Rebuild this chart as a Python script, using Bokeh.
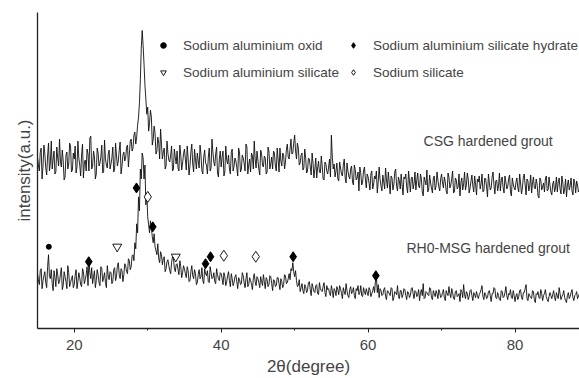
import numpy as np
from bokeh.plotting import figure
from bokeh.models import (Range1d, FixedTicker, Legend, LegendItem, Label)
from bokeh.embed import file_html
from bokeh.resources import INLINE

# ---- data: XRD intensity (a.u.) ----
# samples "a" at 15.0 + 0.25*k, samples "b" at 15.125 + 0.25*k
start_a = 15.0
start_b = 15.125
step_2theta = 0.25

csg_intensity_a = [
    172, 158, 181, 163, 175, 154, 186, 166, 160, 178, 157, 171, 190, 162, 168, 152, 177, 165, 183, 159,
    170, 156, 188, 164, 174, 151, 169, 180, 158, 193, 163, 172, 155, 176, 166, 184, 157, 170, 161, 179,
    165, 182, 160, 174, 168, 187, 163, 177, 171, 184, 175, 190, 181, 197, 192, 212, 250, 299, 265, 230,
    222, 206, 212, 190, 196, 178, 186, 200, 170, 181, 163, 176, 167, 183, 160, 172, 178, 158, 174, 166,
    180, 159, 171, 163, 185, 157, 170, 176, 161, 174, 155, 179, 164, 172, 158, 190, 167, 175, 156, 170,
    162, 178, 157, 169, 174, 155, 180, 163, 168, 153, 176, 160, 171, 158, 182, 164, 157, 173, 188, 161,
    169, 154, 175, 162, 171, 157, 178, 165, 160, 176, 158, 170, 181, 163, 174, 167, 185, 170, 190, 176,
    194, 170, 181, 166, 176, 161, 171, 158, 170, 154, 166, 160, 151, 168, 156, 163, 149, 165, 155, 170,
    194, 160, 152, 166, 148, 161, 153, 170, 146, 158, 150, 163, 144, 159, 151, 138, 156, 147, 162, 141,
    152, 139, 158, 145, 150, 136, 162, 143, 154, 140, 149, 157, 135, 151, 144, 160, 138, 148, 155, 134,
    150, 142, 158, 137, 152, 145, 139, 156, 141, 150, 133, 148, 159, 140, 146, 136, 153, 143, 149, 138,
    155, 141, 147, 135, 152, 144, 158, 137, 149, 142, 133, 151, 145, 139, 156, 136, 148, 143, 153, 134,
    147, 140, 155, 138, 150, 132, 146, 141, 157, 135, 149, 143, 138, 152, 136, 147, 142, 154, 133, 145,
    139, 151, 137, 146, 141, 155, 134, 148, 143, 136, 152, 140, 145, 131, 149, 142, 137, 153, 139, 144,
    134, 148, 141, 137, 151, 135, 146, 140, 132, 149, 143, 138, 150, 136, 144, 139,
]
csg_intensity_b = [
    164, 177, 150, 184, 161, 173, 158, 188, 170, 155, 182, 163, 167, 179, 149, 174, 160, 186, 157, 176,
    183, 162, 171, 153, 185, 166, 158, 175, 191, 160, 178, 150, 181, 163, 172, 156, 189, 164, 175, 160,
    171, 157, 186, 163, 179, 155, 174, 168, 182, 162, 188, 178, 194, 185, 204, 226, 281, 284, 244, 215,
    198, 219, 184, 203, 175, 192, 170, 185, 177, 160, 188, 169, 174, 158, 180, 165, 161, 184, 159, 175,
    170, 183, 154, 177, 165, 180, 160, 168, 184, 158, 172, 166, 155, 181, 161, 177, 163, 182, 152, 178,
    172, 153, 183, 165, 160, 177, 158, 171, 162, 181, 157, 174, 166, 185, 155, 170, 176, 160, 170, 178,
    160, 179, 164, 173, 155, 182, 160, 172, 178, 163, 181, 157, 168, 176, 160, 179, 172, 180, 175, 186,
    178, 186, 164, 174, 159, 180, 156, 171, 162, 176, 151, 171, 161, 157, 173, 150, 167, 158, 162, 152,
    172, 165, 158, 150, 167, 155, 164, 151, 166, 153, 160, 147, 164, 149, 157, 162, 144, 158, 150, 155,
    146, 155, 140, 153, 158, 147, 150, 138, 147, 161, 141, 146, 153, 139, 157, 143, 152, 140, 144, 152,
    155, 136, 148, 151, 140, 157, 149, 143, 155, 137, 152, 144, 137, 154, 141, 151, 139, 157, 142, 150,
    146, 152, 138, 156, 141, 150, 136, 151, 140, 155, 146, 139, 157, 144, 150, 141, 154, 137, 145, 150,
    153, 145, 137, 151, 142, 155, 139, 152, 144, 148, 138, 156, 149, 141, 153, 140, 150, 137, 151, 141,
    147, 141, 155, 135, 152, 144, 150, 138, 154, 146, 141, 150, 133, 151, 139, 146, 150, 138, 152, 137,
    145, 137, 152, 147, 140, 153, 135, 150, 144, 139, 151, 134, 146, 148, 137, 150,
]

rh0_intensity_a = [
    55, 44, 60, 48, 57, 41, 74, 50, 45, 58, 42, 54, 47, 61, 43, 52, 40, 56, 46, 53,
    44, 59, 47, 51, 42, 57, 49, 62, 68, 50, 45, 58, 48, 54, 43, 60, 51, 46, 63, 49,
    56, 47, 61, 52, 66, 50, 58, 54, 63, 55, 68, 62, 74, 86, 105, 132, 160, 176, 150, 124,
    112, 96, 101, 86, 82, 74, 70, 77, 64, 72, 60, 69, 58, 66, 71, 57, 65, 54, 62, 56,
    60, 51, 58, 48, 63, 50, 55, 46, 59, 52, 48, 60, 53, 47, 62, 50, 56, 45, 54, 48,
    55, 44, 52, 47, 57, 42, 50, 46, 54, 40, 49, 45, 53, 41, 56, 44, 48, 39, 55, 43,
    50, 41, 47, 54, 40, 49, 44, 52, 38, 48, 43, 51, 39, 47, 44, 53, 46, 55, 60, 66,
    52, 48, 43, 37, 45, 35, 42, 38, 47, 33, 41, 36, 44, 34, 40, 37, 46, 32, 39, 35,
    43, 31, 38, 42, 34, 40, 30, 37, 45, 33, 39, 35, 41, 30, 38, 34, 43, 32, 37, 40,
    33, 39, 35, 42, 48, 36, 31, 38, 34, 41, 29, 37, 33, 40, 31, 36, 43, 30, 38, 34,
    39, 29, 36, 33, 41, 30, 37, 34, 28, 39, 45, 31, 36, 33, 40, 29, 35, 38, 30, 36,
    32, 39, 28, 35, 42, 31, 36, 29, 38, 33, 27, 37, 44, 30, 35, 32, 39, 28, 34, 37,
    30, 36, 43, 29, 34, 31, 38, 27, 35, 40, 30, 33, 28, 37, 32, 42, 29, 34, 31, 38,
    27, 35, 32, 39, 29, 36, 44, 28, 33, 30, 37, 26, 34, 31, 39, 28, 35, 32, 27, 36,
    30, 38, 28, 33, 41, 29, 34, 31, 26, 36, 32, 39, 28, 34, 30, 35,
]
rh0_intensity_b = [
    49, 58, 40, 53, 46, 62, 52, 59, 38, 51, 60, 45, 55, 39, 57, 47, 63, 42, 50, 41,
    53, 40, 56, 44, 60, 45, 54, 43, 56, 61, 52, 41, 59, 46, 62, 47, 56, 41, 53, 57,
    45, 59, 48, 63, 54, 60, 47, 65, 57, 70, 59, 73, 68, 80, 96, 118, 150, 171, 164, 136,
    104, 108, 92, 95, 78, 85, 66, 74, 70, 57, 67, 63, 55, 72, 61, 64, 59, 68, 51, 63,
    55, 62, 47, 57, 53, 59, 44, 54, 50, 61, 45, 55, 58, 46, 56, 51, 47, 60, 50, 56,
    50, 56, 43, 53, 48, 55, 43, 52, 47, 51, 44, 56, 46, 50, 42, 51, 45, 50, 47, 52,
    46, 52, 43, 47, 51, 42, 53, 45, 49, 42, 51, 45, 50, 41, 54, 45, 50, 49, 58, 57,
    58, 42, 49, 41, 38, 44, 36, 46, 39, 45, 37, 43, 35, 46, 38, 42, 36, 43, 40, 33,
    38, 40, 33, 39, 43, 35, 41, 34, 38, 31, 42, 37, 33, 40, 43, 36, 33, 41, 34, 36,
    41, 32, 38, 36, 52, 44, 40, 33, 39, 32, 38, 35, 41, 28, 37, 34, 32, 38, 31, 40,
    33, 37, 31, 40, 35, 38, 32, 39, 36, 33, 30, 37, 34, 41, 31, 38, 32, 35, 39, 31,
    36, 31, 38, 33, 35, 40, 30, 37, 32, 35, 39, 31, 34, 37, 29, 38, 33, 36, 31, 33,
    34, 39, 32, 36, 30, 37, 33, 35, 41, 31, 36, 29, 38, 31, 36, 33, 35, 39, 30, 33,
    33, 29, 38, 31, 36, 40, 30, 35, 31, 38, 29, 35, 37, 30, 35, 33, 39, 29, 32, 33,
    34, 31, 36, 30, 35, 32, 38, 28, 33, 30, 36, 31, 33, 37, 32, 29,
]

# phase markers (2theta, intensity) on the RH0-MSG pattern
oxid_2theta = [16.54]
oxid_y = [82]
hydrate_2theta = [21.98, 28.47, 30.69, 37.87, 38.55, 49.80, 61.05]
hydrate_y = [67, 141, 102, 65, 72, 72, 53]
al_silicate_2theta = [25.85, 33.82]
al_silicate_y = [82, 72]
na_silicate_2theta = [30.01, 40.36, 44.71]
na_silicate_y = [132, 73, 72]

x_ticks = [20, 40, 60, 80]
x_minor_ticks = [30, 50, 70]

FONT = "Liberation Sans"


def merged(values_a, values_b):
    xa = start_a + step_2theta * np.arange(len(values_a))
    xb = start_b + step_2theta * np.arange(len(values_b))
    xs = np.concatenate([xa, xb])
    ys = np.concatenate([np.asarray(values_a, float), np.asarray(values_b, float)])
    order = np.argsort(xs, kind="stable")
    return xs[order], ys[order]


csg_x, csg_y = merged(csg_intensity_a, csg_intensity_b)
rh0_x, rh0_y = merged(rh0_intensity_a, rh0_intensity_b)

p = figure(width=579, height=378, output_backend="svg", toolbar_location=None,
           x_range=Range1d(15, 88.77), y_range=Range1d(0, 317),
           min_border_left=37, min_border_right=0, min_border_top=12, min_border_bottom=49)
p.outline_line_color = None
p.xgrid.visible = False
p.ygrid.visible = False
p.background_fill_color = "white"
p.border_fill_color = "white"

p.line(csg_x, csg_y, line_color="#0d0d0d", line_width=0.9)
p.line(rh0_x, rh0_y, line_color="#0d0d0d", line_width=0.9)

r_oxid = p.scatter(oxid_2theta, oxid_y, marker="circle", size=5, fill_color="black", line_color="black")
r_hyd = p.scatter(hydrate_2theta, hydrate_y, marker="diamond", size=10, fill_color="black", line_color="black")
r_als = p.scatter(al_silicate_2theta, al_silicate_y, marker="inverted_triangle", size=9,
                  fill_color="white", line_color="black", line_width=0.9)
r_nas = p.scatter(na_silicate_2theta, na_silicate_y, marker="diamond", size=11,
                  fill_color="white", line_color="black", line_width=0.9)

# x axis
xa = p.xaxis[0]
xa.ticker = FixedTicker(ticks=x_ticks, minor_ticks=x_minor_ticks)
xa.axis_label = "2θ(degree)"
xa.axis_label_text_font = FONT
xa.axis_label_text_font_style = "normal"
xa.axis_label_text_font_size = "17px"
xa.axis_label_standoff = 4
xa.major_label_text_font = FONT
xa.major_label_text_font_size = "15px"
xa.major_label_standoff = 7
xa.major_tick_out = 4
xa.major_tick_in = 0
xa.minor_tick_out = 2
xa.minor_tick_in = 0
xa.axis_line_width = 1.3
xa.axis_line_color = "#222222"
xa.major_tick_line_color = "#222222"
xa.minor_tick_line_color = "#222222"

# y axis (no ticks)
ya = p.yaxis[0]
ya.ticker = FixedTicker(ticks=[])
ya.axis_label = "intensity(a.u.)"
ya.axis_label_text_font = FONT
ya.axis_label_text_font_style = "normal"
ya.axis_label_text_font_size = "17px"
ya.axis_label_standoff = 4
ya.major_label_text_font_size = "0px"
ya.major_tick_line_color = None
ya.minor_tick_line_color = None
ya.axis_line_width = 1.3
ya.axis_line_color = "#222222"

legend = Legend(items=[
    LegendItem(label="Sodium aluminium oxid", renderers=[r_oxid]),
    LegendItem(label="Sodium aluminium silicate hydrate", renderers=[r_hyd]),
    LegendItem(label="Sodium aluminium silicate", renderers=[r_als]),
    LegendItem(label="Sodium silicate", renderers=[r_nas]),
], orientation="horizontal", nrows=2, location=(119, 246))
legend.padding = 0
legend.margin = 0
legend.border_line_color = None
legend.background_fill_alpha = 0
legend.label_text_font = FONT
legend.label_text_font_size = "13.5px"
legend.label_height = 20
legend.glyph_height = 20
legend.glyph_width = 14
legend.label_standoff = 13
legend.spacing = 7
p.add_layout(legend)

p.add_layout(Label(x=67.54, y=188, text="CSG hardened grout", text_font=FONT,
                   text_font_size="14px", text_baseline="middle"))
p.add_layout(Label(x=65.22, y=81, text="RH0-MSG hardened grout", text_font=FONT,
                   text_font_size="14px", text_baseline="middle"))

open("out.html", "w").write(file_html(p, INLINE))
